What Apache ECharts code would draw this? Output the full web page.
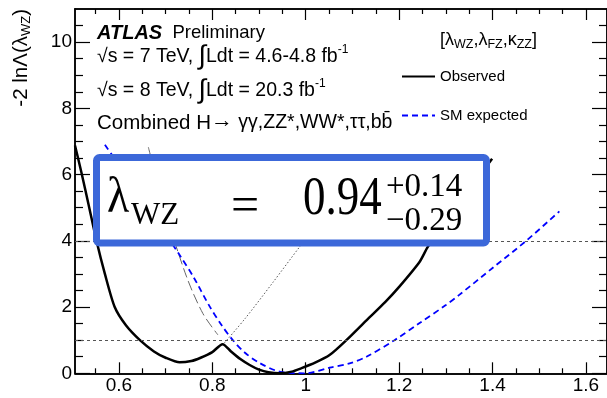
<!DOCTYPE html>
<html>
<head>
<meta charset="utf-8">
<script src="https://cdn.jsdelivr.net/npm/echarts@6/dist/echarts.min.js"></script>
<style>
  html, body { margin: 0; padding: 0; background: #fff; }
  #main { width: 607px; height: 398px; }
</style>
</head>
<body>
<div id="main"></div>
<script>
// -2lnΛ(λWZ) 扫描曲线
var obsX = [0.506, 0.52, 0.535, 0.552, 0.57, 0.591, 0.615, 0.645, 0.675, 0.70, 0.73, 0.755, 0.775, 0.80, 0.822,
  0.84, 0.86, 0.88, 0.90, 0.92, 0.944, 0.97, 0.99, 1.02, 1.051, 1.087, 1.13, 1.17, 1.20, 1.244, 1.261, 1.30, 1.35, 1.399]
var obsY = [6.88, 6.05, 5.10, 4.00, 3.00, 2.00, 1.45, 1.00, 0.66, 0.47, 0.33, 0.37, 0.47, 0.64, 0.88,
  0.66, 0.43, 0.25, 0.11, 0.03, 0.00, 0.05, 0.15, 0.32, 0.55, 1.00, 1.60, 2.15, 2.61, 3.37, 3.81, 4.60, 5.55, 6.48]

var smX = [0.570, 0.60, 0.65, 0.70, 0.730, 0.760, 0.793, 0.820, 0.844, 0.870, 0.900, 0.944, 1.00,
  1.051, 1.094, 1.13, 1.19, 1.243, 1.30, 1.328, 1.40, 1.472, 1.543]
var smY = [6.90, 6.30, 5.24, 4.20, 3.57, 2.90, 2.05, 1.45, 1.00, 0.62, 0.32, 0.05, 0.00,
  0.17, 0.30, 0.50, 1.00, 1.51, 2.06, 2.36, 3.18, 4.00, 4.89]

// 灰色长虚线（左侧拟合）和点线（右侧）
var leftFitX = [0.663, 0.70, 0.745, 0.78, 0.812]
var leftFitY = [6.83, 4.86, 2.91, 1.80, 1.16]
var rightFitX = [0.826, 0.87, 0.93, 0.987, 1.00]
var rightFitY = [0.92, 1.65, 2.75, 3.82, 4.05]

var refLevels = [1, 4]

var xMajor = [0.6, 0.8, 1, 1.2, 1.4, 1.6]
var xMinor = [0.55, 0.65, 0.7, 0.75, 0.85, 0.9, 0.95, 1.05, 1.1, 1.15, 1.25, 1.3, 1.35, 1.45, 1.5, 1.55]
var yMajor = [0, 2, 4, 6, 8, 10]
var yMinor = [0.5, 1, 1.5, 2.5, 3, 3.5, 4.5, 5, 5.5, 6.5, 7, 7.5, 8.5, 9, 9.5, 10.5]

var F = 'Liberation Sans, Arial, sans-serif'
var SERIF = 'Liberation Serif, Times New Roman, serif'

function zip(xs, ys) {
  return xs.map(function (x, i) { return [x, ys[i]] })
}

// 边框上的刻度轴（ROOT风格，四边都有刻度）
function frameAxis(pos, ticks, len, withLabel, isX) {
  var ax = {
    type: 'value',
    position: pos,
    min: isX ? 0.506 : 0,
    max: isX ? 1.645 : 11,
    axisLine: { show: true, onZero: false, lineStyle: { color: '#000', width: 1.5 } },
    axisTick: { show: true, inside: true, length: len, customValues: ticks, lineStyle: { color: '#000', width: 1.2 } },
    axisLabel: { show: false },
    splitLine: { show: false }
  }
  if (withLabel) {
    ax.axisLabel = { show: true, customValues: ticks, color: '#000', fontFamily: F, fontSize: 19, margin: 3 }
  }
  return ax
}

var myChart = echarts.init(document.getElementById('main'))

function txt(x, y, text, rich, align, rotation) {
  return {
    type: 'text', x: x, y: y, z: 20, rotation: rotation || 0,
    style: { text: text, fill: '#000', align: align || 'left', verticalAlign: 'middle', rich: rich }
  }
}

// 框里的公式，字形在原图里被纵向拉长了一点
function boxTxt(x, y, text, size, sy) {
  return {
    type: 'text', z: 11, x: x, y: y, scaleY: sy || 1,
    style: { text: text, font: size + 'px ' + SERIF, fill: '#000', verticalAlign: 'middle' }
  }
}

var richLine = {
  n: { fontFamily: F, fontSize: 19.5, lineHeight: 26, fill: '#000' },
  c: { fontFamily: F, fontSize: 20.5, lineHeight: 26, fill: '#000' },
  a: { fontFamily: F, fontSize: 22, lineHeight: 20, verticalAlign: 'top', fill: '#000' },
  i: { fontFamily: F, fontSize: 27, lineHeight: 26, fill: '#000' },
  s: { fontFamily: F, fontSize: 12, lineHeight: 12, verticalAlign: 'top', fill: '#000' }
}

var option = {
  animation: false,
  grid: { left: 75, right: -1, top: 9, bottom: 24.7 },
  xAxis: [
    frameAxis('bottom', xMajor, 11, true, true),
    frameAxis('bottom', xMinor, 5, false, true),
    frameAxis('top', xMajor, 11, false, true),
    frameAxis('top', xMinor, 5, false, true)
  ],
  yAxis: [
    frameAxis('left', yMajor, 15, true, false),
    frameAxis('left', yMinor, 8, false, false),
    frameAxis('right', yMajor, 15, false, false),
    frameAxis('right', yMinor, 8, false, false)
  ],
  legend: {
    data: ['Observed', 'SM expected'],
    orient: 'vertical',
    left: 401,
    top: 69,
    padding: 0,
    itemWidth: 33,
    itemHeight: 14,
    itemGap: 24,
    itemStyle: { opacity: 0, color: 'rgba(0,0,0,0)', borderWidth: 0 },
    textStyle: { fontFamily: F, fontSize: 15, color: '#000' }
  },
  series: [
    {
      name: 'Observed', type: 'line', data: zip(obsX, obsY),
      symbol: 'none', smooth: 0.25, z: 4,
      lineStyle: { color: '#000', width: 2.5 },
      itemStyle: { color: '#000' },
      markLine: {
        silent: true, symbol: 'none', label: { show: false },
        lineStyle: { color: '#555', width: 1, type: [3, 3] },
        data: refLevels.map(function (v) { return { yAxis: v } })
      }
    },
    {
      name: 'SM expected', type: 'line', data: zip(smX, smY),
      symbol: 'none', smooth: 0.3, z: 3,
      lineStyle: { color: '#0000ff', width: 1.8, type: [6, 4] },
      itemStyle: { color: '#0000ff' }
    },
    {
      name: 'left fit', type: 'line', data: zip(leftFitX, leftFitY),
      symbol: 'none', smooth: 0.3, z: 2,
      lineStyle: { color: '#666', width: 1, type: [10, 4] }
    },
    {
      name: 'right fit', type: 'line', data: zip(rightFitX, rightFitY),
      symbol: 'none', smooth: 0.3, z: 2,
      lineStyle: { color: '#555', width: 1, type: [1.5, 2] }
    }
  ],
  graphic: [
    // y轴标题，旋转后右端对齐到顶部
    txt(21, 9, '{n|-2 ln\u039B(\u03BB}{s|WZ}{n|)}', {
      n: { fontFamily: F, fontSize: 20.5, lineHeight: 24, fill: '#000' },
      s: { fontFamily: F, fontSize: 13, lineHeight: 13, verticalAlign: 'bottom', fill: '#000' }
    }, 'right', Math.PI / 2),
    txt(97, 33, '{b|ATLAS}{n|  Preliminary}', {
      b: { fontFamily: F, fontSize: 20, fontWeight: 'bold', fontStyle: 'italic', fill: '#000' },
      n: { fontFamily: F, fontSize: 18.5, fill: '#000' }
    }),
    txt(97, 57, '{n|\u221As = 7 TeV, }{i|\u222B}{n|Ldt = 4.6-4.8 fb}{s|-1}', richLine),
    txt(97, 91, '{n|\u221As = 8 TeV, }{i|\u222B}{n|Ldt = 20.3 fb}{s|-1}', richLine),
    txt(97, 123, '{c|Combined H}{a|\u2192}{n| \u03B3\u03B3,ZZ*,WW*,\u03C4\u03C4,bb\u0304}', richLine),
    txt(440, 40, '{n|[\u03BB}{s|WZ}{n|,\u03BB}{s|FZ}{n|,\u03BA}{s|ZZ}{n|]}', {
      n: { fontFamily: F, fontSize: 18, lineHeight: 22, fill: '#000' },
      s: { fontFamily: F, fontSize: 12.5, lineHeight: 12, verticalAlign: 'bottom', fill: '#000' }
    }),
    // 结果框
    {
      type: 'rect', z: 10,
      shape: { x: 96.5, y: 157.5, width: 390, height: 85.5, r: 3 },
      style: { fill: '#fff', stroke: '#3c68d9', lineWidth: 7 }
    },
    boxTxt(107, 199, '\u03BB', 46, 1.1),
    boxTxt(131, 216, 'WZ', 31),
    boxTxt(231, 208, '=', 50),
    boxTxt(303, 200, '0.94', 45, 1.2),
    boxTxt(386, 187, '+0.14', 33),
    boxTxt(386, 221, '\u22120.29', 33)
  ]
}

myChart.setOption(option)
</script>
</body>
</html>
